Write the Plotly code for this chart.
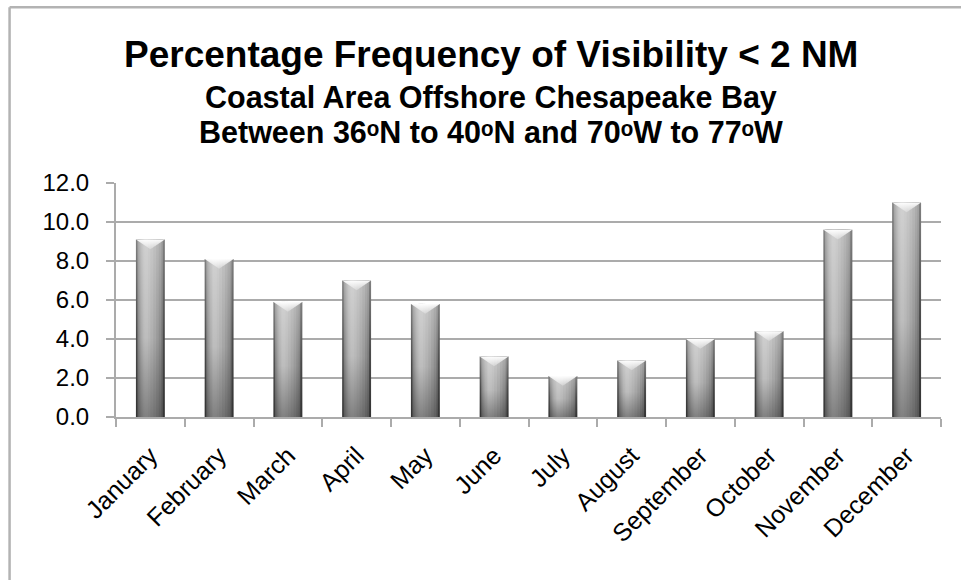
import plotly.graph_objects as go

# Monthly frequency (%) of visibility below 2 nautical miles
months = ["January", "February", "March", "April", "May", "June",
          "July", "August", "September", "October", "November", "December"]
frequency = [9.1, 8.1, 5.9, 7.0, 5.8, 3.1, 2.1, 2.9, 4.0, 4.4, 9.6, 11.0]

y_ticks = [0, 2, 4, 6, 8, 10, 12]

title_main = "Percentage Frequency of Visibility < 2 NM"
title_sub1 = "Coastal Area Offshore Chesapeake Bay"
title_sub2 = "Between 36ᵒN to 40ᵒN and 70ᵒW to 77ᵒW"

FONT = "Liberation Sans, Arial, Helvetica, sans-serif"
GRID = "#ababab"

# Cylinder-style shading: nested layers of the same bar, each narrower
# and lighter, with the highlight sitting left of centre.
BAR_WIDTH = 0.42
layers = [  # (left fraction, right fraction, colour)
    (0.00, 1.00, "#4a4a4a"),
    (0.05, 0.93, "#7c7c7c"),
    (0.08, 0.87, "#8c8c8c"),
    (0.12, 0.79, "#9a9a9a"),
    (0.16, 0.70, "#a6a6a6"),
    (0.20, 0.60, "#b0b0b0"),
    (0.25, 0.50, "#b8b8b8"),
    (0.29, 0.42, "#bdbdbd"),
]

fig = go.Figure()
n = len(months)
for lo, hi, c in layers:
    fig.add_trace(go.Bar(
        x=months, y=frequency,
        width=[BAR_WIDTH * (hi - lo)] * n,
        offset=[-BAR_WIDTH / 2 + BAR_WIDTH * lo] * n,
        marker=dict(color=c, line=dict(width=0)),
        showlegend=False,
        hovertemplate="%{x}: %{y:.1f}%<extra></extra>",
    ))

# Per-bar vertical wash (dark at the base, light at the top) and a
# bevelled top face, on a hidden linear axis sharing the category slots.
BEVEL = 0.5
for i, v in enumerate(frequency):
    x0, x1 = i - BAR_WIDTH / 2, i + BAR_WIDTH / 2
    fig.add_trace(go.Scatter(
        x=[x0, x1, x1, x0, x0], y=[0, 0, v, v, 0],
        xaxis="x2", mode="none", fill="toself",
        fillgradient=dict(type="vertical", start=0, stop=v, colorscale=[
            [0.0, "rgba(0,0,0,0.32)"],
            [0.45, "rgba(0,0,0,0.0)"],
            [0.46, "rgba(255,255,255,0.0)"],
            [1.0, "rgba(255,255,255,0.30)"],
        ]),
        hoverinfo="skip", showlegend=False,
    ))
    fig.add_trace(go.Scatter(
        x=[x0, x1, i, x0], y=[v, v, v - BEVEL, v],
        xaxis="x2", mode="none", fill="toself",
        fillgradient=dict(type="vertical", start=v - BEVEL, stop=v, colorscale=[
            [0.0, "rgba(255,255,255,0.25)"],
            [1.0, "rgba(255,255,255,0.97)"],
        ]),
        hoverinfo="skip", showlegend=False,
    ))

# Chart frame
fig.add_shape(type="line", xref="paper", yref="paper",
              x0=-0.129, x1=1.2, y0=1.751, y1=1.751,
              line=dict(color="#b3b3b3", width=2.5))
fig.add_shape(type="line", xref="paper", yref="paper",
              x0=-0.129, x1=-0.129, y0=-1.0, y1=1.751,
              line=dict(color="#b3b3b3", width=2.5))

title_x = 0.454
fig.add_annotation(text=f"<b>{title_main}</b>", xref="paper", yref="paper",
                   x=title_x, y=1.55, xanchor="center", yanchor="middle",
                   showarrow=False, font=dict(family=FONT, size=37, color="black"))
fig.add_annotation(text=f"<b>{title_sub1}</b>", xref="paper", yref="paper",
                   x=title_x, y=1.3633, xanchor="center", yanchor="middle",
                   showarrow=False, font=dict(family=FONT, size=30.5, color="black"))
fig.add_annotation(text=f"<b>{title_sub2}</b>", xref="paper", yref="paper",
                   x=title_x, y=1.2177, xanchor="center", yanchor="middle",
                   showarrow=False, font=dict(family=FONT, size=30.5, color="black"))

fig.update_layout(
    width=961, height=580,
    margin=dict(l=116, r=20, t=183, b=163),
    paper_bgcolor="white", plot_bgcolor="white",
    barmode="overlay",
    font=dict(family=FONT, color="black"),
    xaxis=dict(
        type="category", categoryorder="array", categoryarray=months,
        range=[-0.5, n - 0.5],
        tickangle=-45, tickfont=dict(family=FONT, size=25, color="black"),
        showline=True, linecolor=GRID, linewidth=2,
        ticks="outside", tickson="boundaries", ticklen=8, tickwidth=2,
        tickcolor=GRID, showgrid=False, ticklabelstandoff=12,
    ),
    xaxis2=dict(overlaying="x", type="linear", range=[-0.5, n - 0.5],
                visible=False, fixedrange=True),
    yaxis=dict(
        range=[0, 12], tickvals=y_ticks, tickformat=".1f",
        tickfont=dict(family=FONT, size=24, color="black"),
        showline=True, linecolor=GRID, linewidth=2,
        ticks="outside", ticklen=8, tickwidth=2, tickcolor=GRID,
        showgrid=True, gridcolor=GRID, gridwidth=2,
        zeroline=False, ticklabelstandoff=12,
    ),
)

fig.write_html("out.html")
